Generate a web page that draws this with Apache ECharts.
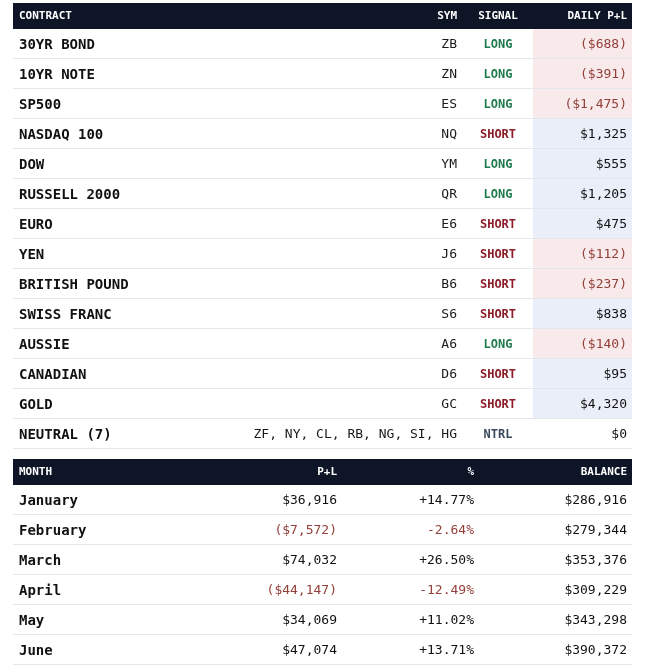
<!DOCTYPE html>
<html>
<head>
<meta charset="utf-8">
<script src="https://cdn.jsdelivr.net/npm/echarts@6/dist/echarts.min.js"></script>
<style>
html,body{margin:0;padding:0;background:#fff;}
#c{width:645px;height:665px;}
</style>
</head>
<body>
<div id="c"></div>
<script>
// ---- data ----
var contracts = ['30YR BOND','10YR NOTE','SP500','NASDAQ 100','DOW','RUSSELL 2000','EURO','YEN','BRITISH POUND','SWISS FRANC','AUSSIE','CANADIAN','GOLD','NEUTRAL (7)'];
var symbols = ['ZB','ZN','ES','NQ','YM','QR','E6','J6','B6','S6','A6','D6','GC','ZF, NY, CL, RB, NG, SI, HG'];
var signals = ['LONG','LONG','LONG','SHORT','LONG','LONG','SHORT','SHORT','SHORT','SHORT','LONG','SHORT','SHORT','NTRL'];
var dailyPL = [-688,-391,-1475,1325,555,1205,475,-112,-237,838,-140,95,4320,0];

var months = ['January','February','March','April','May','June'];
var monthPL = [36916,-7572,74032,-44147,34069,47074];
var monthPct = [14.77,-2.64,26.50,-12.49,11.02,13.71];
var balance = [286916,279344,353376,309229,343298,390372];

var header1 = ['CONTRACT','SYM','SIGNAL','DAILY P+L'];
var header2 = ['MONTH','P+L','%','BALANCE'];

// ---- styles ----
var FONT = '"DejaVu Sans Mono", "Liberation Mono", monospace';
var NAVY = '#0d1526';
var RED = '#93403a';
var SIG = {LONG:'#1f7a4c', SHORT:'#8c1d28', NTRL:'#3a4a5e'};
var W = 619;
var DY = 1;

function money(v){
  var s = '$' + Math.abs(v).toLocaleString('en-US');
  return v < 0 ? '(' + s + ')' : s;
}
function pct(v){
  return (v >= 0 ? '+' : '-') + Math.abs(v).toFixed(2) + '%';
}
function txt(x, y, t, opts){
  return {type:'text', style:{x:x, y:y + DY, text:t, fill:opts.fill||'#111',
    font:(opts.weight||'normal') + ' ' + (opts.size||13) + 'px ' + FONT,
    align:opts.align||'left', verticalAlign:'middle'}};
}

var chart = echarts.init(document.getElementById('c'), null, {renderer:'canvas'});

function render1(params, api){
  var i = api.value(0);
  var c0 = api.coord([0, i]);
  var h = api.size([0, 1])[1];
  var y = c0[1];
  var X = function(v){ return api.coord([v, i])[0]; };
  var children = [];
  var v = dailyPL[i];
  if (v !== 0) {
    children.push({type:'rect', shape:{x:X(520), y:y-h/2, width:X(W)-X(520), height:h},
      style:{fill: v < 0 ? '#f8eaea' : '#e9eef8'}});
  }
  children.push({type:'line', shape:{x1:X(0), y1:y+h/2-0.5, x2:X(W), y2:y+h/2-0.5},
    style:{stroke:'#e3e6eb', lineWidth:1}});
  children.push(txt(X(6), y, contracts[i], {weight:'bold', size:14, fill:'#111'}));
  children.push(txt(X(444), y, symbols[i], {size:13, fill:'#1a1a1a', align:'right'}));
  children.push(txt(X(485), y, signals[i], {weight:'bold', size:12, fill:SIG[signals[i]], align:'center'}));
  children.push(txt(X(614), y, money(v), {size:13, fill: v < 0 ? RED : '#111', align:'right'}));
  return {type:'group', children:children};
}

function render2(params, api){
  var i = api.value(0);
  var y = api.coord([0, i])[1];
  var h = api.size([0, 1])[1];
  var X = function(v){ return api.coord([v, i])[0]; };
  var children = [];
  children.push({type:'line', shape:{x1:X(0), y1:y+h/2-0.5, x2:X(W), y2:y+h/2-0.5},
    style:{stroke:'#e3e6eb', lineWidth:1}});
  children.push(txt(X(6), y, months[i], {weight:'bold', size:14, fill:'#111'}));
  children.push(txt(X(324), y, money(monthPL[i]), {size:13, fill: monthPL[i] < 0 ? RED : '#111', align:'right'}));
  children.push(txt(X(461), y, pct(monthPct[i]), {size:13, fill: monthPct[i] < 0 ? RED : '#111', align:'right'}));
  children.push(txt(X(614), y, money(balance[i]), {size:13, fill:'#111', align:'right'}));
  return {type:'group', children:children};
}

function headerGraphic(top, labels, xs, aligns){
  var g = [{type:'rect', shape:{x:13, y:top, width:W, height:26}, style:{fill:NAVY}}];
  for (var k = 0; k < labels.length; k++) {
    g.push({type:'text', style:{x:xs[k], y:top+13, text:labels[k], fill:'#ffffff',
      font:'bold 11px ' + FONT, align:aligns[k], verticalAlign:'middle'}});
  }
  return g;
}

var graphics = headerGraphic(3, header1, [19, 457, 498, 627], ['left','right','center','right'])
  .concat(headerGraphic(459, header2, [19, 337, 474, 627], ['left','right','right','right']));

chart.setOption({
  animation:false,
  grid:[
    {left:13, top:29, width:W, height:30*contracts.length},
    {left:13, top:485, width:W, height:30*months.length}
  ],
  xAxis:[
    {type:'value', gridIndex:0, min:0, max:W, show:false},
    {type:'value', gridIndex:1, min:0, max:W, show:false}
  ],
  yAxis:[
    {type:'category', gridIndex:0, data:contracts, inverse:true, show:false},
    {type:'category', gridIndex:1, data:months, inverse:true, show:false}
  ],
  graphic: graphics,
  series:[
    {type:'custom', xAxisIndex:0, yAxisIndex:0, clip:false, renderItem:render1,
      data: contracts.map(function(_, i){ return [i]; }), encode:{y:0}},
    {type:'custom', xAxisIndex:1, yAxisIndex:1, clip:false, renderItem:render2,
      data: months.map(function(_, i){ return [i]; }), encode:{y:0}}
  ]
});
</script>
</body>
</html>
